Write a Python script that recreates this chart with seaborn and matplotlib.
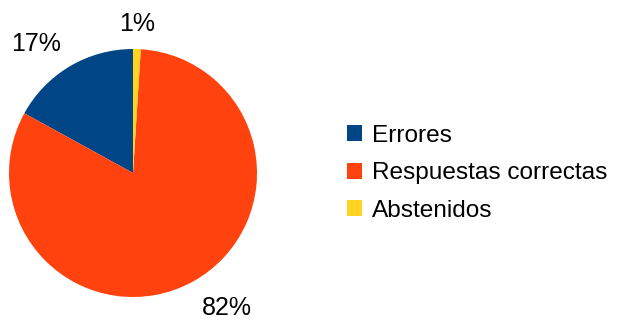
import numpy as np
import matplotlib
matplotlib.use("Agg")
import matplotlib.pyplot as plt
import seaborn as sns

categories = ["Errores", "Respuestas correctas", "Abstenidos"]
values = [17, 82, 1]
pct_labels = ["17%", "82%", "1%"]
colors = ["#004586", "#ff420e", "#ffd320"]

sns.set_theme(style="white")
plt.rcParams["font.family"] = ["Liberation Sans", "DejaVu Sans"]
plt.rcParams["text.color"] = "black"

W, H = 626, 320
fig = plt.figure(figsize=(W / 100, H / 100), dpi=100)
fig.patch.set_facecolor("white")

# pie box: 248 px square, left edge at 9 px, bottom at 23 px
ax = fig.add_axes([9 / W, 23 / H, 248 / W, 248 / H])
palette = sns.color_palette(colors)
wedges, _ = ax.pie(values, colors=palette, startangle=90, counterclock=True,
                   radius=1.0, wedgeprops=dict(linewidth=0))
ax.set_xlim(-1, 1)
ax.set_ylim(-1, 1)
ax.set_aspect("auto")
ax.axis("off")

# value labels just outside each wedge: the glyph box corner nearest the
# pie sits on a circle slightly larger than the pie
r_lab = 1.145
lab_size = 18
cap = 0.716 * lab_size
for w, txt in zip(wedges, pct_labels):
    mid = np.deg2rad((w.theta1 + w.theta2) / 2)
    x, y = r_lab * np.cos(mid), r_lab * np.sin(mid)
    c = np.cos(mid)
    ha = "center" if abs(c) < 0.15 else ("left" if c > 0 else "right")
    dy = 0 if np.sin(mid) > 0 else -cap
    ax.annotate(txt, (x, y), xytext=(0, dy), textcoords="offset points",
                ha=ha, va="baseline", fontsize=lab_size, color="black",
                annotation_clip=False)

fig.legend(wedges, categories, loc="upper left",
           bbox_to_anchor=(347 / W, 1 - 125 / H), bbox_transform=fig.transFigure,
           frameon=False, fontsize=17.6, borderpad=0, borderaxespad=0,
           handlelength=0.62, handleheight=0.62, handletextpad=0.4,
           labelspacing=0.63, labelcolor="black")

fig.savefig("out.png", dpi=100, facecolor="white")
